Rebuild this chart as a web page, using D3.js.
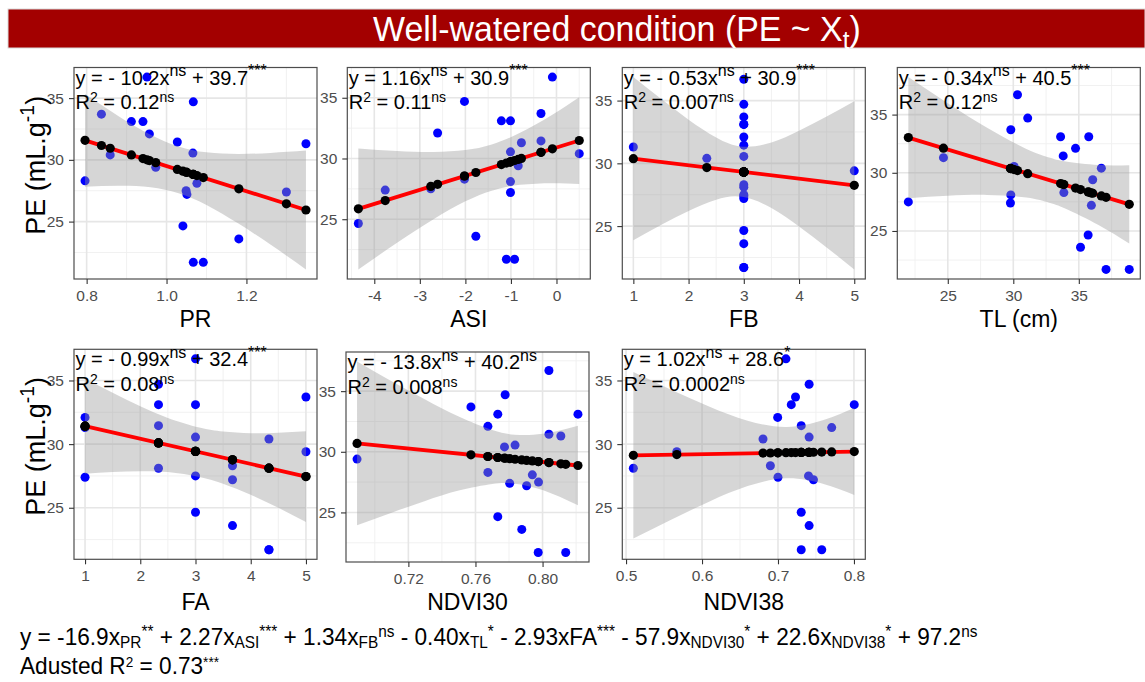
<!DOCTYPE html>
<html><head><meta charset="utf-8">
<script src="https://cdn.jsdelivr.net/npm/d3@7"></script>
<style>body{margin:0;background:#fff}svg{display:block}</style>
</head><body>
<svg id="chart" width="1145" height="682"></svg>
<script>
// ---------- data ----------
// PE of the 20 samples (same y values in every panel)
const pe = [36.7, 34.7, 33.7, 33.1, 33.1, 32.1, 31.45, 31.3, 30.55, 30.4, 29.4, 28.3, 28.1, 27.5, 27.4, 27.2, 24.65, 23.6, 21.7, 21.7];
// trait values for the same samples
const xPR = [0.951, 1.067, 0.837, 0.912, 0.941, 0.957, 1.027, 1.349, 1.066, 0.859, 0.973, 0.796, 1.076, 1.049, 1.300, 1.051, 1.041, 1.181, 1.067, 1.092];
const xASI = [-0.09, -2.02, -0.34, -1.21, -1.01, -2.61, -0.34, -0.77, -1.01, 0.50, -0.84, -2.02, -1.01, -2.76, -3.76, -1.01, -4.35, -1.77, -1.10, -0.92];
const xFB = [3, 3, 3, 3, 3, 3, 3, 1, 3, 2.33, 5, 3, 3, 3, 3, 3, 3, 3, 3, 3];
const xTL = [30.32, 31.10, 29.81, 33.61, 35.76, 34.75, 33.81, 24.67, 30.06, 36.72, 36.06, 33.86, 29.81, 21.99, 29.78, 35.96, 35.71, 35.13, 37.08, 38.85];
const xFA = [3, 2.33, 5, 2.33, 3, 1, 2.33, 1, 3, 4.33, 5, 3.67, 2.33, 3, 1, 3.67, 3, 3.67, 4.33, 4.33];
const xNDVI30 = [0.8038, 0.7777, 0.7573, 0.7733, 0.8211, 0.7674, 0.8038, 0.8109, 0.7836, 0.7773, 0.6894, 0.7674, 0.7939, 0.7976, 0.7804, 0.7905, 0.7733, 0.7876, 0.7974, 0.8138];
const xNDVI38 = [0.7105, 0.7410, 0.7231, 0.7175, 0.8004, 0.6996, 0.7306, 0.7707, 0.7410, 0.6803, 0.5668, 0.6900, 0.5096, 0.7402, 0.7000, 0.7467, 0.7306, 0.7410, 0.7306, 0.7576];

// fitted lines as printed in each panel: [slope, intercept]
const fitPR = [-10.2, 39.7], fitASI = [1.16, 30.9], fitFB = [-0.53, 30.9], fitTL = [-0.34, 40.5];
const fitFA = [-0.99, 32.4], fitNDVI30 = [-13.8, 40.2], fitNDVI38 = [1.02, 28.6];

// confidence band edges read at a few x positions
const bandPRx = [0.796, 0.88, 0.96, 1.03, 1.10, 1.18, 1.26, 1.349];
const bandPRlo = [27.82, 27.90, 27.78, 27.29, 26.35, 24.84, 23.14, 21.13];
const bandPRhi = [35.34, 33.54, 32.04, 31.09, 30.61, 30.48, 30.56, 30.75];
const bandASIx = [-4.35, -3.5, -2.7, -2.0, -1.42, -0.8, -0.1, 0.5];
const bandASIlo = [20.87, 23.06, 25.00, 26.47, 27.35, 27.83, 27.97, 27.91];
const bandASIhi = [30.83, 30.62, 30.54, 30.69, 31.15, 32.11, 33.59, 35.05];
const bandFBx = [1, 1.5, 2, 2.5, 2.97, 3.5, 4, 4.5, 5];
const bandFBlo = [23.87, 25.08, 26.20, 27.10, 27.33, 26.44, 24.96, 23.30, 21.55];
const bandFBhi = [36.87, 35.14, 33.48, 32.06, 31.33, 31.66, 32.60, 33.74, 34.95];
const bandTLx = [21.99, 25, 28, 31, 32.74, 34, 36.5, 38.85];
const bandTLlo = [27.82, 28.02, 28.10, 27.87, 27.43, 26.92, 25.52, 23.93];
const bandTLhi = [38.22, 35.98, 33.86, 32.05, 31.31, 30.96, 30.66, 30.65];
const bandFAx = [1, 1.5, 2, 2.5, 3.07, 3.5, 4, 4.5, 5];
const bandFAlo = [27.67, 27.81, 27.87, 27.80, 27.42, 26.89, 26.02, 25.00, 23.88];
const bandFAhi = [35.15, 34.03, 32.97, 32.06, 31.30, 30.99, 30.86, 30.90, 31.02];
const bandNDVI30x = [0.6894, 0.71, 0.73, 0.75, 0.77, 0.7834, 0.80, 0.8211];
const bandNDVI30lo = [23.94, 24.98, 25.95, 26.80, 27.35, 27.37, 26.84, 25.59];
const bandNDVI30hi = [37.44, 35.82, 34.31, 32.90, 31.79, 31.41, 31.48, 32.15];
const bandNDVI38x = [0.5096, 0.56, 0.61, 0.66, 0.7114, 0.76, 0.8004];
const bandNDVI38lo = [22.58, 24.08, 25.50, 26.70, 27.31, 26.87, 26.01];
const bandNDVI38hi = [35.66, 34.26, 32.94, 31.84, 31.35, 31.89, 32.83];

// axis ticks and labels
const yTicks = [25, 30, 35];
const yTickLabels = ["25", "30", "35"];
const ticksPR = [0.8, 1.0, 1.2], labelsPR = ["0.8", "1.0", "1.2"];
const ticksASI = [-4, -3, -2, -1, 0], labelsASI = ["-4", "-3", "-2", "-1", "0"];
const ticksFB = [1, 2, 3, 4, 5], labelsFB = ["1", "2", "3", "4", "5"];
const ticksTL = [25, 30, 35], labelsTL = ["25", "30", "35"];
const ticksFA = [1, 2, 3, 4, 5], labelsFA = ["1", "2", "3", "4", "5"];
const ticksNDVI30 = [0.72, 0.76, 0.80], labelsNDVI30 = ["0.72", "0.76", "0.80"];
const ticksNDVI38 = [0.5, 0.6, 0.7, 0.8], labelsNDVI38 = ["0.5", "0.6", "0.7", "0.8"];

// texts: [text, "n" | "sup" | "sub"]
const eqPR = [["y = - 10.2x","n"],["ns","sup"],[" + 39.7","n"],["***","sup"]];
const r2PR = [["R","n"],["2","sup"],[" = 0.12","n"],["ns","sup"]];
const eqASI = [["y = 1.16x","n"],["ns","sup"],[" + 30.9","n"],["***","sup"]];
const r2ASI = [["R","n"],["2","sup"],[" = 0.11","n"],["ns","sup"]];
const eqFB = [["y = - 0.53x","n"],["ns","sup"],[" + 30.9","n"],["***","sup"]];
const r2FB = [["R","n"],["2","sup"],[" = 0.007","n"],["ns","sup"]];
const eqTL = [["y = - 0.34x","n"],["ns","sup"],[" + 40.5","n"],["***","sup"]];
const r2TL = [["R","n"],["2","sup"],[" = 0.12","n"],["ns","sup"]];
const eqFA = [["y = - 0.99x","n"],["ns","sup"],[" + 32.4","n"],["***","sup"]];
const r2FA = [["R","n"],["2","sup"],[" = 0.08","n"],["ns","sup"]];
const eqNDVI30 = [["y = - 13.8x","n"],["ns","sup"],[" + 40.2","n"],["ns","sup"]];
const r2NDVI30 = [["R","n"],["2","sup"],[" = 0.008","n"],["ns","sup"]];
const eqNDVI38 = [["y = 1.02x","n"],["ns","sup"],[" + 28.6","n"],["*","sup"]];
const r2NDVI38 = [["R","n"],["2","sup"],[" = 0.0002","n"],["ns","sup"]];
const yTitle = [["PE (mL.g","n"],["-1","sup"],[")","n"]];
const title = [["Well-watered condition (PE ~ X","n"],["t","sub"],[")","n"]];
const modelLine = [["y = -16.9x","n"],["PR","sub"],["**","sup"],[" + 2.27x","n"],["ASI","sub"],["***","sup"],
  [" + 1.34x","n"],["FB","sub"],["ns","sup"],[" -  0.40x","n"],["TL","sub"],["*","sup"],[" - 2.93xFA","n"],["***","sup"],
  [" - 57.9x","n"],["NDVI30","sub"],["*","sup"],[" + 22.6x","n"],["NDVI38","sub"],["*","sup"],[" + 97.2","n"],["ns","sup"]];
const adjLine = [["Adusted R","n"],["2","sup"],[" = 0.73","n"],["***","sup"]];

// ---------- panels ----------
const panels = [
  {name:"PR",     x:xPR,     fit:fitPR,     bx:bandPRx,     lo:bandPRlo,     hi:bandPRhi,     ticks:ticksPR,     labels:labelsPR,     eq:eqPR,     r2:r2PR,     ytitle:true},
  {name:"ASI",    x:xASI,    fit:fitASI,    bx:bandASIx,    lo:bandASIlo,    hi:bandASIhi,    ticks:ticksASI,    labels:labelsASI,    eq:eqASI,    r2:r2ASI},
  {name:"FB",     x:xFB,     fit:fitFB,     bx:bandFBx,     lo:bandFBlo,     hi:bandFBhi,     ticks:ticksFB,     labels:labelsFB,     eq:eqFB,     r2:r2FB},
  {name:"TL (cm)",x:xTL,     fit:fitTL,     bx:bandTLx,     lo:bandTLlo,     hi:bandTLhi,     ticks:ticksTL,     labels:labelsTL,     eq:eqTL,     r2:r2TL},
  {name:"FA",     x:xFA,     fit:fitFA,     bx:bandFAx,     lo:bandFAlo,     hi:bandFAhi,     ticks:ticksFA,     labels:labelsFA,     eq:eqFA,     r2:r2FA,     ytitle:true},
  {name:"NDVI30", x:xNDVI30, fit:fitNDVI30, bx:bandNDVI30x, lo:bandNDVI30lo, hi:bandNDVI30hi, ticks:ticksNDVI30, labels:labelsNDVI30, eq:eqNDVI30, r2:r2NDVI30},
  {name:"NDVI38", x:xNDVI38, fit:fitNDVI38, bx:bandNDVI38x, lo:bandNDVI38lo, hi:bandNDVI38hi, ticks:ticksNDVI38, labels:labelsNDVI38, eq:eqNDVI38, r2:r2NDVI38}
];
// panel boxes (layout)
const boxes = [
  {l:74,    t:67.5,  w:243, h:211.5, titleY:327},
  {l:347.3, t:67.5,  w:243, h:211.5, titleY:327},
  {l:622.3, t:67.5,  w:243, h:211.5, titleY:327},
  {l:897.3, t:67.5,  w:243, h:211.5, titleY:327},
  {l:74,    t:349.3, w:243, h:210,   titleY:610},
  {l:346,   t:352,   w:243, h:210,   titleY:610},
  {l:622.3, t:349.3, w:243, h:210,   titleY:610}
];

const FONT = "'Liberation Sans', Arial, Helvetica, sans-serif";
const NARROW = "'Liberation Sans Narrow', 'Arial Narrow', 'Liberation Sans', sans-serif";
const svg = d3.select("#chart");

function rich(sel, segs, size, supScale = 0.72, raise = 0.42, drop = 0.28) {
  let off = 0;
  segs.forEach(([t, k]) => {
    const target = k === "sup" ? -raise * size : (k === "sub" ? drop * size : 0);
    const ts = sel.append("tspan").text(t).attr("dy", target - off);
    if (k !== "n") ts.attr("font-size", size * supScale);
    off = target;
  });
  return sel;
}

function expand(ext) { const r = ext[1] - ext[0]; return [ext[0] - 0.05 * r, ext[1] + 0.05 * r]; }

function minorTicks(major, dom) {
  const step = major[1] - major[0];
  const out = [];
  for (let v = major[0] - step / 2; v <= dom[1] + 1e-9; v += step) if (v >= dom[0]) out.push(+v.toFixed(6));
  return out;
}

panels.forEach((p, i) => {
  const b = boxes[i];
  const g = svg.append("g").attr("transform", `translate(${b.l},${b.t})`);
  const xs = d3.scaleLinear().domain(expand(d3.extent(p.x))).range([0, b.w]);
  const yAll = pe.concat(p.lo, p.hi);
  const ys = d3.scaleLinear().domain(expand(d3.extent(yAll))).range([b.h, 0]);

  // grid
  const xMinor = minorTicks(p.ticks, xs.domain());
  const yMinor = minorTicks(yTicks, ys.domain());
  g.selectAll(".gxm").data(xMinor).join("line").attr("x1", d => xs(d)).attr("x2", d => xs(d)).attr("y1", 0).attr("y2", b.h)
    .attr("stroke", "#efefef").attr("stroke-width", 0.9);
  g.selectAll(".gym").data(yMinor).join("line").attr("y1", d => ys(d)).attr("y2", d => ys(d)).attr("x1", 0).attr("x2", b.w)
    .attr("stroke", "#efefef").attr("stroke-width", 0.9);
  g.selectAll(".gx").data(p.ticks).join("line").attr("x1", d => xs(d)).attr("x2", d => xs(d)).attr("y1", 0).attr("y2", b.h)
    .attr("stroke", "#e6e6e6").attr("stroke-width", 1.6);
  g.selectAll(".gy").data(yTicks).join("line").attr("y1", d => ys(d)).attr("y2", d => ys(d)).attr("x1", 0).attr("x2", b.w)
    .attr("stroke", "#e6e6e6").attr("stroke-width", 1.6);

  // observed points
  const pts = p.x.map((v, k) => ({x: v, y: pe[k]}));
  g.selectAll(".obs").data(pts).join("circle").attr("cx", d => xs(d.x)).attr("cy", d => ys(d.y)).attr("r", 4.5).attr("fill", "#0000ff");

  // confidence band
  const band = p.bx.map((v, k) => ({x: v, lo: p.lo[k], hi: p.hi[k]}));
  g.append("path").datum(band)
    .attr("d", d3.area().x(d => xs(d.x)).y0(d => ys(d.lo)).y1(d => ys(d.hi)).curve(d3.curveNatural))
    .attr("fill", "#999999").attr("fill-opacity", 0.4);

  // fitted line and fitted points
  const f = v => p.fit[0] * v + p.fit[1];
  const ext = d3.extent(p.x);
  g.append("path").datum(ext).attr("d", d3.line().x(d => xs(d)).y(d => ys(f(d))))
    .attr("stroke", "#ff0000").attr("stroke-width", 3.8).attr("fill", "none");
  g.selectAll(".fitp").data(p.x).join("circle").attr("cx", d => xs(d)).attr("cy", d => ys(f(d))).attr("r", 4.6).attr("fill", "#000");

  // border
  g.append("rect").attr("width", b.w).attr("height", b.h).attr("fill", "none").attr("stroke", "#4d4d4d").attr("stroke-width", 1.2);

  // axes
  const xa = g.append("g").attr("transform", `translate(0,${b.h})`)
    .call(d3.axisBottom(xs).tickValues(p.ticks).tickFormat((d, k) => p.labels[k]).tickSize(5).tickPadding(6));
  const ya = g.append("g").call(d3.axisLeft(ys).tickValues(yTicks).tickFormat((d, k) => yTickLabels[k]).tickSize(5).tickPadding(5));
  [xa, ya].forEach(a => {
    a.select(".domain").remove();
    a.selectAll("line").attr("stroke", "#333").attr("stroke-width", 1.1);
    a.selectAll("text").attr("fill", "#4d4d4d").attr("font-family", FONT).attr("font-size", 15.5);
  });

  // equation labels
  const t1 = g.append("text").attr("x", 1.5).attr("y", 17).attr("font-family", FONT).attr("font-size", 20).attr("fill", "#000");
  rich(t1, p.eq, 20, 0.8);
  const t2 = g.append("text").attr("x", 1.5).attr("y", 41.5).attr("font-family", FONT).attr("font-size", 20).attr("fill", "#000");
  rich(t2, p.r2, 20, 0.7, 0.35);

  // axis titles
  svg.append("text").attr("x", b.l + b.w / 2).attr("y", b.titleY).attr("text-anchor", "middle")
    .attr("font-family", FONT).attr("font-size", 23).attr("fill", "#000").text(p.name);
  if (p.ytitle) {
    const yt = svg.append("text").attr("transform", `translate(45,${b.t + b.h / 2 - 8}) rotate(-90)`)
      .attr("text-anchor", "middle").attr("font-family", FONT).attr("font-size", 27).attr("fill", "#000");
    rich(yt, yTitle, 27);
  }
});

// ---------- banner ----------
svg.append("rect").attr("x", 8).attr("y", 9).attr("width", 1137).attr("height", 39).attr("fill", "#a30000")
  .attr("stroke", "#d9d9d9").attr("stroke-width", 1);
const tt = svg.append("text").attr("x", 0).attr("y", 0).attr("font-family", NARROW).attr("font-size", 35).attr("fill", "#fff");
rich(tt, title, 35, 0.72, 0.42, 0.22);
{
  const w = tt.node().getBBox().width;
  const target = 488, sx = target / w;
  tt.attr("transform", `translate(${617 - target / 2},41) scale(${sx},1)`);
}

// ---------- bottom model text ----------
const m1 = svg.append("text").attr("font-family", NARROW).attr("font-size", 23).attr("fill", "#000");
rich(m1, modelLine, 23, 0.68, 0.36, 0.15);
const m2 = svg.append("text").attr("font-family", NARROW).attr("font-size", 23).attr("fill", "#000");
rich(m2, adjLine, 23, 0.6, 0.3, 0.15);
{
  const w = m1.node().getBBox().width;
  const sx = 958 / w;
  m1.attr("transform", `translate(20,645) scale(${sx},1)`);
  m2.attr("transform", `translate(20,673.5) scale(${sx},1)`);
}
</script>
</body></html>
